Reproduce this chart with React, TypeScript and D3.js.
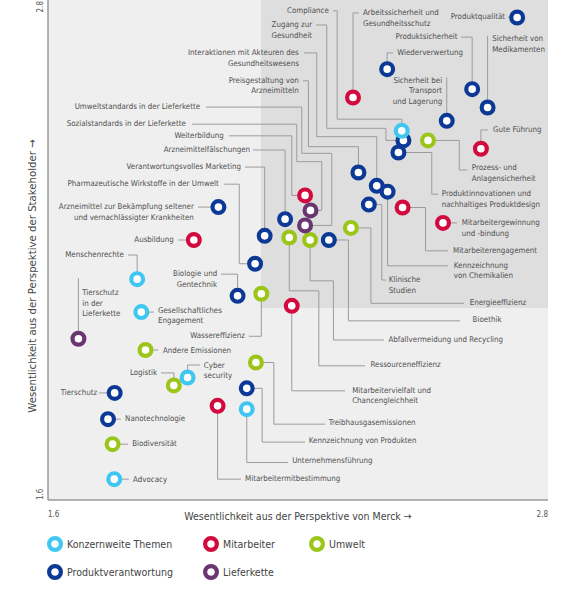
import React from 'react';
import * as d3 from 'd3';

// Wesentlichkeitsanalyse: x = Perspektive von Merck, y = Perspektive der Stakeholder
type Topic = { topic: string; merck: number; stakeholder: number };

const categories = ['Konzernweite Themen', 'Mitarbeiter', 'Umwelt', 'Produktverantwortung', 'Lieferkette'];
const categoryColors = ['#3fc7f2', '#d20a3d', '#9cc51a', '#0c3996', '#6a3670'];

const konzernweite: Topic[] = [
  { topic: 'Compliance', merck: 2.449, stakeholder: 2.486 },
  { topic: 'Menschenrechte', merck: 1.814, stakeholder: 2.13 },
  { topic: 'Gesellschaftliches Engagement', merck: 1.824, stakeholder: 2.051 },
  { topic: 'Cyber security', merck: 1.935, stakeholder: 1.894 },
  { topic: 'Advocacy', merck: 1.759, stakeholder: 1.65 },
  { topic: 'Unternehmensführung', merck: 2.077, stakeholder: 1.818 },
];

const mitarbeiter: Topic[] = [
  { topic: 'Arbeitssicherheit und Gesundheitsschutz', merck: 2.332, stakeholder: 2.566 },
  { topic: 'Gute Führung', merck: 2.639, stakeholder: 2.443 },
  { topic: 'Mitarbeitergewinnung und -bindung', merck: 2.548, stakeholder: 2.265 },
  { topic: 'Mitarbeiterengagement', merck: 2.451, stakeholder: 2.302 },
  { topic: 'Weiterbildung', merck: 2.217, stakeholder: 2.331 },
  { topic: 'Ausbildung', merck: 1.95, stakeholder: 2.224 },
  { topic: 'Mitarbeitervielfalt und Chancengleichheit', merck: 2.185, stakeholder: 2.066 },
  { topic: 'Mitarbeitermitbestimmung', merck: 2.007, stakeholder: 1.826 },
];

const umwelt: Topic[] = [
  { topic: 'Prozess- und Anlagensicherheit', merck: 2.512, stakeholder: 2.463 },
  { topic: 'Energieeffizienz', merck: 2.327, stakeholder: 2.253 },
  { topic: 'Abfallvermeidung und Recycling', merck: 2.229, stakeholder: 2.224 },
  { topic: 'Ressourceneffizienz', merck: 2.179, stakeholder: 2.23 },
  { topic: 'Wassereffizienz', merck: 2.112, stakeholder: 2.095 },
  { topic: 'Treibhausgasemissionen', merck: 2.099, stakeholder: 1.93 },
  { topic: 'Andere Emissionen', merck: 1.834, stakeholder: 1.96 },
  { topic: 'Logistik', merck: 1.902, stakeholder: 1.875 },
  { topic: 'Biodiversität', merck: 1.755, stakeholder: 1.734 },
];

const produktverantwortung: Topic[] = [
  { topic: 'Produktqualität', merck: 2.726, stakeholder: 2.758 },
  { topic: 'Wiederverwertung', merck: 2.414, stakeholder: 2.634 },
  { topic: 'Produktsicherheit', merck: 2.618, stakeholder: 2.586 },
  { topic: 'Sicherheit von Medikamenten', merck: 2.655, stakeholder: 2.542 },
  { topic: 'Sicherheit bei Transport und Lagerung', merck: 2.557, stakeholder: 2.51 },
  { topic: 'Zugang zur Gesundheit', merck: 2.453, stakeholder: 2.463 },
  { topic: 'Produktinnovationen und nachhaltiges Produktdesign', merck: 2.441, stakeholder: 2.434 },
  { topic: 'Preisgestaltung von Arzneimitteln', merck: 2.345, stakeholder: 2.386 },
  { topic: 'Interaktionen mit Akteuren des Gesundheitswesens', merck: 2.389, stakeholder: 2.354 },
  { topic: 'Kennzeichnung von Chemikalien', merck: 2.415, stakeholder: 2.34 },
  { topic: 'Klinische Studien', merck: 2.37, stakeholder: 2.309 },
  { topic: 'Arzneimittelfälschungen', merck: 2.169, stakeholder: 2.274 },
  { topic: 'Arzneimittel zur Bekämpfung seltener und vernachlässigter Krankheiten', merck: 2.009, stakeholder: 2.303 },
  { topic: 'Verantwortungsvolles Marketing', merck: 2.12, stakeholder: 2.234 },
  { topic: 'Bioethik', merck: 2.274, stakeholder: 2.224 },
  { topic: 'Pharmazeutische Wirkstoffe in der Umwelt', merck: 2.097, stakeholder: 2.167 },
  { topic: 'Biologie und Gentechnik', merck: 2.055, stakeholder: 2.09 },
  { topic: 'Kennzeichnung von Produkten', merck: 2.077, stakeholder: 1.868 },
  { topic: 'Tierschutz', merck: 1.76, stakeholder: 1.857 },
  { topic: 'Nanotechnologie', merck: 1.744, stakeholder: 1.794 },
];

const lieferkette: Topic[] = [
  { topic: 'Sozialstandards in der Lieferkette', merck: 2.23, stakeholder: 2.295 },
  { topic: 'Umweltstandards in der Lieferkette', merck: 2.217, stakeholder: 2.259 },
  { topic: 'Tierschutz in der Lieferkette', merck: 1.673, stakeholder: 1.987 },
];

const seriesByCategory = [konzernweite, mitarbeiter, umwelt, produktverantwortung, lieferkette];
const drawOrder = [3, 1, 2, 4, 0];

const xDomain = [1.6, 2.8];
const yDomain = [1.6, 2.8];
const xTicks = ['1.6', '2.8'];
const yTicks = ['1.6', '2.8'];
const focusFrom = { merck: 2.111, stakeholder: 2.061 };

// label placement (data units): text lines, anchor, label position, leader elbows (label side -> point)
type Note = { topic: string; lines: string[]; anchor: 'start' | 'end'; at: [number, number]; path: [number, number][] };
const notes: Note[] = [
  { topic: 'Compliance', lines: ['Compliance'], anchor: 'end', at: [2.274, 2.774], path: [[2.284, 2.774], [2.294, 2.774], [2.294, 2.514], [2.449, 2.514]] },
  { topic: 'Zugang zur Gesundheit', lines: ['Zugang zur', 'Gesundheit'], anchor: 'end', at: [2.234, 2.74], path: [[2.243, 2.74], [2.269, 2.74], [2.269, 2.492], [2.411, 2.492], [2.411, 2.463]] },
  { topic: 'Interaktionen mit Akteuren des Gesundheitswesens', lines: ['Interaktionen mit Akteuren des', 'Gesundheitswesens'], anchor: 'end', at: [2.202, 2.673], path: [[2.214, 2.673], [2.245, 2.673], [2.245, 2.472], [2.389, 2.472]] },
  { topic: 'Preisgestaltung von Arzneimitteln', lines: ['Preisgestaltung von', 'Arzneimitteln'], anchor: 'end', at: [2.202, 2.606], path: [[2.212, 2.606], [2.225, 2.606], [2.225, 2.448], [2.345, 2.448]] },
  { topic: 'Umweltstandards in der Lieferkette', lines: ['Umweltstandards in der Lieferkette'], anchor: 'end', at: [1.965, 2.543], path: [[1.979, 2.543], [2.209, 2.543], [2.209, 2.432], [2.281, 2.432], [2.281, 2.259]] },
  { topic: 'Sozialstandards in der Lieferkette', lines: ['Sozialstandards in der Lieferkette'], anchor: 'end', at: [1.931, 2.502], path: [[1.946, 2.502], [2.197, 2.502], [2.197, 2.412], [2.257, 2.412], [2.257, 2.295]] },
  { topic: 'Weiterbildung', lines: ['Weiterbildung'], anchor: 'end', at: [2.022, 2.474], path: [[2.034, 2.474], [2.185, 2.474], [2.185, 2.331]] },
  { topic: 'Arzneimittelfälschungen', lines: ['Arzneimittelfälschungen'], anchor: 'end', at: [2.085, 2.44], path: [[2.092, 2.44], [2.169, 2.44]] },
  { topic: 'Verantwortungsvolles Marketing', lines: ['Verantwortungsvolles Marketing'], anchor: 'end', at: [2.063, 2.399], path: [[2.073, 2.399], [2.12, 2.399]] },
  { topic: 'Pharmazeutische Wirkstoffe in der Umwelt', lines: ['Pharmazeutische Wirkstoffe in der Umwelt'], anchor: 'end', at: [2.01, 2.358], path: [[2.022, 2.358], [2.059, 2.358], [2.059, 2.167]] },
  { topic: 'Arzneimittel zur Bekämpfung seltener und vernachlässigter Krankheiten', lines: ['Arzneimittel zur Bekämpfung seltener', 'und vernachlässigter Krankheiten'], anchor: 'end', at: [1.95, 2.303], path: [[1.96, 2.303]] },
  { topic: 'Ausbildung', lines: ['Ausbildung'], anchor: 'end', at: [1.902, 2.224], path: [[1.912, 2.224]] },
  { topic: 'Menschenrechte', lines: ['Menschenrechte'], anchor: 'end', at: [1.782, 2.188], path: [[1.792, 2.188], [1.814, 2.188]] },
  { topic: 'Biologie und Gentechnik', lines: ['Biologie und', 'Gentechnik'], anchor: 'end', at: [2.006, 2.142], path: [[2.015, 2.142], [2.055, 2.142]] },
  { topic: 'Tierschutz in der Lieferkette', lines: ['Tierschutz', 'in der', 'Lieferkette'], anchor: 'start', at: [1.682, 2.097], path: [[1.673, 2.132]] },
  { topic: 'Gesellschaftliches Engagement', lines: ['Gesellschaftliches', 'Engagement'], anchor: 'start', at: [1.864, 2.054], path: [[1.854, 2.051]] },
  { topic: 'Wassereffizienz', lines: ['Wassereffizienz'], anchor: 'end', at: [2.073, 1.993], path: [[2.082, 1.993], [2.112, 1.993]] },
  { topic: 'Andere Emissionen', lines: ['Andere Emissionen'], anchor: 'start', at: [1.876, 1.958], path: [[1.864, 1.96]] },
  { topic: 'Cyber security', lines: ['Cyber', 'security'], anchor: 'start', at: [1.974, 1.922], path: [[1.965, 1.924], [1.935, 1.924]] },
  { topic: 'Logistik', lines: ['Logistik'], anchor: 'end', at: [1.862, 1.905], path: [[1.871, 1.905], [1.902, 1.905]] },
  { topic: 'Tierschutz', lines: ['Tierschutz'], anchor: 'end', at: [1.718, 1.857], path: [[1.722, 1.857]] },
  { topic: 'Nanotechnologie', lines: ['Nanotechnologie'], anchor: 'start', at: [1.785, 1.794], path: [[1.775, 1.794]] },
  { topic: 'Biodiversität', lines: ['Biodiversität'], anchor: 'start', at: [1.802, 1.734], path: [[1.792, 1.734]] },
  { topic: 'Advocacy', lines: ['Advocacy'], anchor: 'start', at: [1.804, 1.648], path: [[1.794, 1.65]] },
  { topic: 'Treibhausgasemissionen', lines: ['Treibhausgasemissionen'], anchor: 'start', at: [2.274, 1.785], path: [[2.265, 1.782], [2.142, 1.782], [2.142, 1.93]] },
  { topic: 'Kennzeichnung von Produkten', lines: ['Kennzeichnung von Produkten'], anchor: 'start', at: [2.226, 1.742], path: [[2.217, 1.739], [2.114, 1.739], [2.114, 1.868]] },
  { topic: 'Unternehmensführung', lines: ['Unternehmensführung'], anchor: 'start', at: [2.186, 1.694], path: [[2.176, 1.69], [2.077, 1.69]] },
  { topic: 'Mitarbeitermitbestimmung', lines: ['Mitarbeitermitbestimmung'], anchor: 'start', at: [2.073, 1.65], path: [[2.063, 1.65], [2.007, 1.65]] },
  { topic: 'Mitarbeitervielfalt und Chancengleichheit', lines: ['Mitarbeitervielfalt und', 'Chancengleichheit'], anchor: 'start', at: [2.33, 1.862], path: [[2.313, 1.862], [2.185, 1.862]] },
  { topic: 'Ressourceneffizienz', lines: ['Ressourceneffizienz'], anchor: 'start', at: [2.374, 1.924], path: [[2.361, 1.922], [2.25, 1.922], [2.25, 2.102], [2.179, 2.102]] },
  { topic: 'Abfallvermeidung und Recycling', lines: ['Abfallvermeidung und Recycling'], anchor: 'start', at: [2.417, 1.984], path: [[2.406, 1.984], [2.285, 1.984], [2.285, 2.126], [2.229, 2.126]] },
  { topic: 'Bioethik', lines: ['Bioethik'], anchor: 'start', at: [2.619, 2.032], path: [[2.589, 2.03], [2.321, 2.03], [2.321, 2.224]] },
  { topic: 'Energieeffizienz', lines: ['Energieeffizienz'], anchor: 'start', at: [2.612, 2.072], path: [[2.598, 2.072], [2.375, 2.072], [2.375, 2.253]] },
  { topic: 'Klinische Studien', lines: ['Klinische', 'Studien'], anchor: 'start', at: [2.418, 2.128], path: [[2.411, 2.128], [2.401, 2.128], [2.401, 2.309]] },
  { topic: 'Kennzeichnung von Chemikalien', lines: ['Kennzeichnung', 'von Chemikalien'], anchor: 'start', at: [2.574, 2.162], path: [[2.56, 2.162], [2.415, 2.162]] },
  { topic: 'Mitarbeiterengagement', lines: ['Mitarbeiterengagement'], anchor: 'start', at: [2.572, 2.198], path: [[2.56, 2.198], [2.506, 2.198], [2.506, 2.302]] },
  { topic: 'Mitarbeitergewinnung und -bindung', lines: ['Mitarbeitergewinnung', 'und -bindung'], anchor: 'start', at: [2.593, 2.265], path: [[2.582, 2.265]] },
  { topic: 'Produktinnovationen und nachhaltiges Produktdesign', lines: ['Produktinnovationen und', 'nachhaltiges Produktdesign'], anchor: 'start', at: [2.545, 2.334], path: [[2.536, 2.334], [2.521, 2.334], [2.521, 2.434]] },
  { topic: 'Prozess- und Anlagensicherheit', lines: ['Prozess- und', 'Anlagensicherheit'], anchor: 'start', at: [2.617, 2.397], path: [[2.606, 2.392], [2.587, 2.392], [2.587, 2.463]] },
  { topic: 'Gute Führung', lines: ['Gute Führung'], anchor: 'start', at: [2.668, 2.488], path: [[2.656, 2.488], [2.639, 2.488]] },
  { topic: 'Sicherheit bei Transport und Lagerung', lines: ['Sicherheit bei', 'Transport', 'und Lagerung'], anchor: 'end', at: [2.546, 2.606], path: [[2.557, 2.614]] },
  { topic: 'Sicherheit von Medikamenten', lines: ['Sicherheit von', 'Medikamenten'], anchor: 'start', at: [2.666, 2.706], path: [[2.655, 2.714]] },
  { topic: 'Produktsicherheit', lines: ['Produktsicherheit'], anchor: 'end', at: [2.583, 2.711], path: [[2.591, 2.711], [2.618, 2.711]] },
  { topic: 'Wiederverwertung', lines: ['Wiederverwertung'], anchor: 'start', at: [2.438, 2.673], path: [[2.428, 2.673], [2.414, 2.673]] },
  { topic: 'Arbeitssicherheit und Gesundheitsschutz', lines: ['Arbeitssicherheit und', 'Gesundheitsschutz'], anchor: 'start', at: [2.356, 2.769], path: [[2.346, 2.769], [2.332, 2.769]] },
  { topic: 'Produktqualität', lines: ['Produktqualität'], anchor: 'end', at: [2.697, 2.759], path: [[2.704, 2.759]] },
];

const font = "'Liberation Sans Narrow', 'DejaVu Sans Condensed', 'Noto Sans', sans-serif";
const width = 580;
const height = 605;
const margin = { top: 0, right: 32, bottom: 105, left: 48 };

const App = () => {
  const x = d3.scaleLinear().domain(xDomain).range([margin.left, width - margin.right]);
  const y = d3.scaleLinear().domain(yDomain).range([height - margin.bottom, margin.top]);
  const line = d3.line<[number, number]>().x((d) => x(d[0])).y((d) => y(d[1]));

  const pointOf = new Map<string, Topic>();
  seriesByCategory.forEach((s) => s.forEach((t) => pointOf.set(t.topic, t)));

  const x0 = x(xDomain[0]);
  const x1 = x(xDomain[1]);
  const y0 = y(yDomain[0]);
  const y1 = y(yDomain[1]);

  return (
    <div style={{ position: 'absolute', left: 0, top: 0 }}>
      <svg width={width} height={height} style={{ display: 'block', fontFamily: font }}>
        <rect x={x0} y={y1} width={x1 - x0} height={y0 - y1} fill="#efefef" />
        <rect x={x(focusFrom.merck)} y={y1} width={x1 - x(focusFrom.merck)} height={y(focusFrom.stakeholder) - y1} fill="#dedede" />

        <line x1={x0} x2={x0} y1={y1} y2={y0} stroke="#9a9a9a" strokeWidth={1.5} />
        <line x1={x0} x2={x1} y1={y0} y2={y0} stroke="#9a9a9a" strokeWidth={1.5} />

        <g fill="#555" fontSize={8}>
          <text x={x(+xTicks[0])} y={y0 + 17} textAnchor="start">{xTicks[0]}</text>
          <text x={x(+xTicks[1])} y={y0 + 17} textAnchor="end">{xTicks[1]}</text>
          <text transform={`translate(${x0 - 5},${y(+yTicks[0])}) rotate(-90)`} textAnchor="start">{yTicks[0]}</text>
          <text transform={`translate(${x0 - 5},${y(+yTicks[1]) + 1}) rotate(-90)`} textAnchor="end">{yTicks[1]}</text>
        </g>

        <text x={(x0 + x1) / 2} y={y0 + 20} textAnchor="middle" fontSize={10.5} fill="#444">
          Wesentlichkeit aus der Perspektive von Merck →
        </text>
        <text
          transform={`translate(${x0 - 12},${(y0 + y1) / 2 + 26}) rotate(-90)`}
          textAnchor="middle"
          fontSize={11.3}
          fill="#444"
        >
          Wesentlichkeit aus der Perspektive der Stakeholder →
        </text>

        <g fill="none" stroke="#9c9c9c" strokeWidth={1}>
          {notes.map((n) => {
            const p = pointOf.get(n.topic)!;
            return <path key={n.topic} d={line([...n.path, [p.merck, p.stakeholder]]) || ''} />;
          })}
        </g>

        <g fontSize={7.9} fill="#505050">
          {notes.map((n) => (
            <text key={n.topic} x={x(n.at[0])} y={y(n.at[1])} textAnchor={n.anchor} dominantBaseline="middle">
              {n.lines.map((l, i) => (
                <tspan key={i} x={x(n.at[0])} dy={i === 0 ? 0 : 10.6}>
                  {l}
                </tspan>
              ))}
            </text>
          ))}
        </g>

        {drawOrder.map((ci) => (
          <g key={categories[ci]}>
            {seriesByCategory[ci].map((t) => (
              <circle
                key={t.topic}
                cx={x(t.merck)}
                cy={y(t.stakeholder)}
                r={5.9}
                fill="#fff"
                stroke={categoryColors[ci]}
                strokeWidth={4.2}
              />
            ))}
          </g>
        ))}

        <g transform={`translate(${x0 + 7},${y0 + 44})`}>
          {categories.map((c, i) => {
            const cx = [0, 156, 262][i % 3];
            const cy = Math.floor(i / 3) * 28;
            return (
              <g key={c} transform={`translate(${cx},${cy})`}>
                <circle r={5.9} fill="#fff" stroke={categoryColors[i]} strokeWidth={4.2} />
                <text x={12} dy="0.35em" fontSize={10.5} fill="#444">
                  {c}
                </text>
              </g>
            );
          })}
        </g>
      </svg>
    </div>
  );
};

export default App;
